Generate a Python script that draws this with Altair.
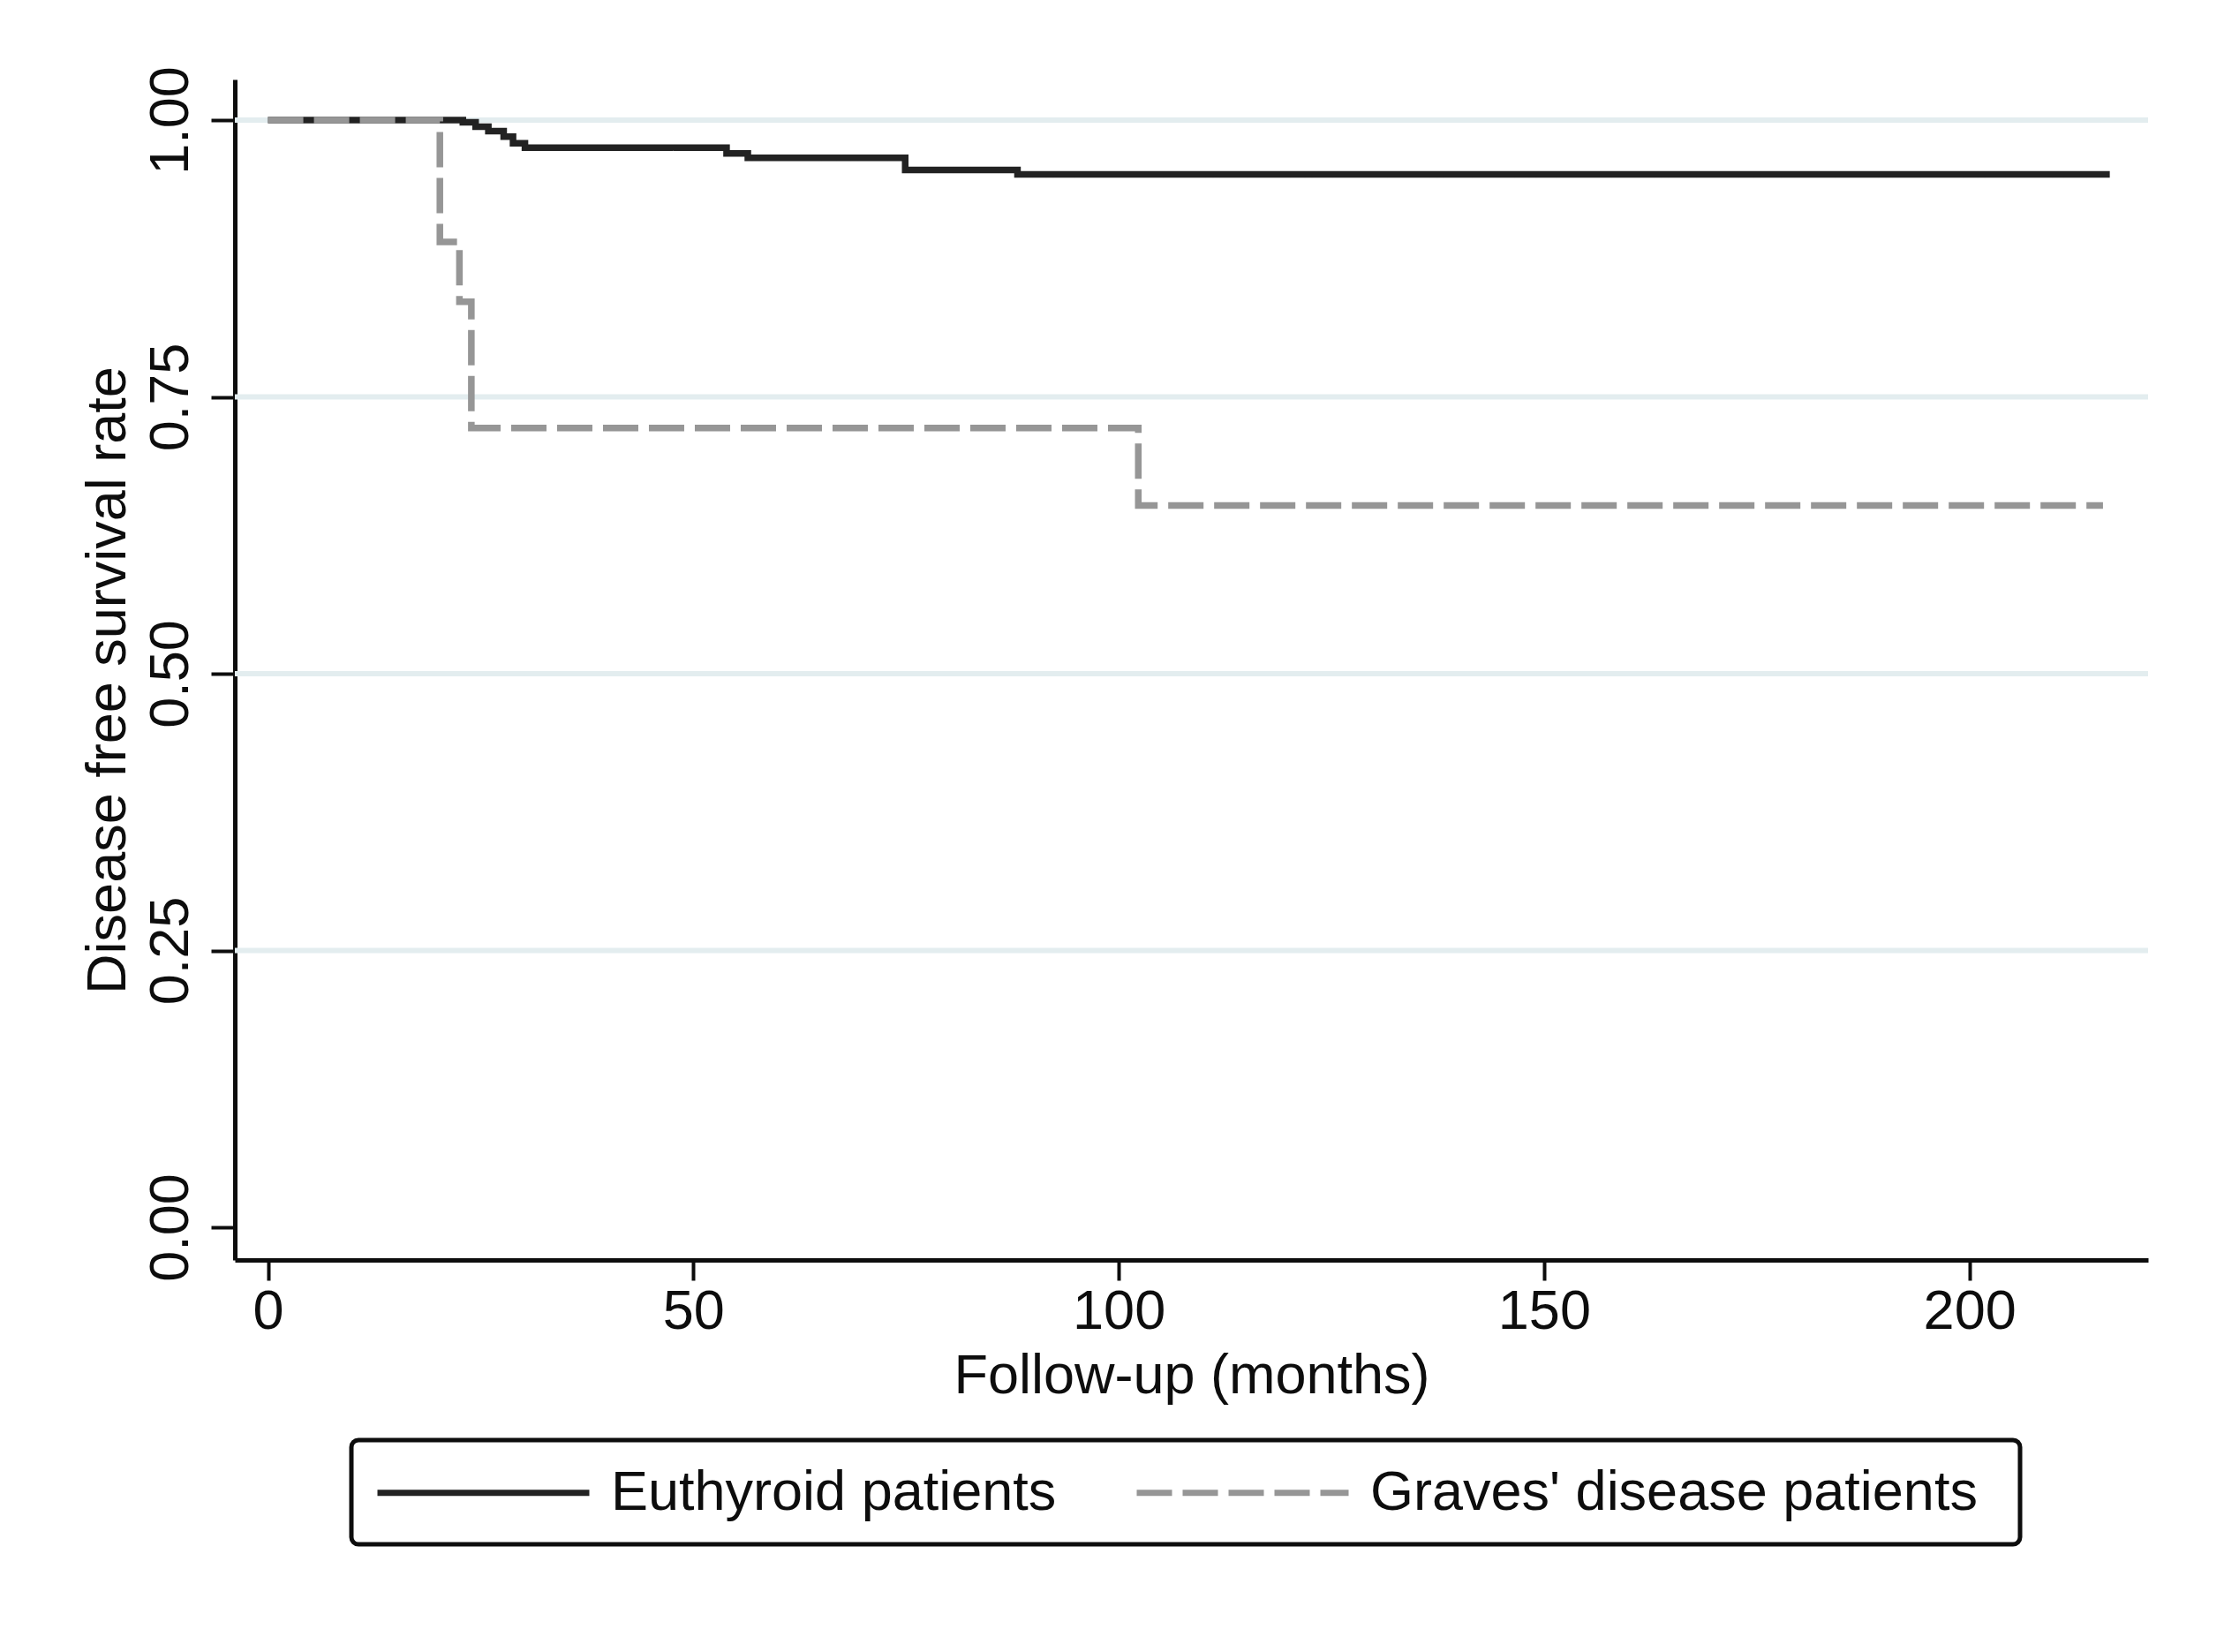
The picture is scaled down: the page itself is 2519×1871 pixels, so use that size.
import altair as alt
import pandas as pd

# ---- data (Kaplan-Meier step curves) ----
euthyroid_months = [0, 22.9, 24.4, 25.9, 27.7, 28.8, 30.2, 53.9, 56.4, 74.9, 88.1, 216.5]
euthyroid_surv = [1.0, 0.998, 0.994, 0.990, 0.985, 0.979, 0.975, 0.970, 0.966, 0.955, 0.951, 0.951]

graves_months = [0, 20.2, 22.5, 23.9, 102.3, 215.7]
graves_surv = [1.0, 0.890, 0.836, 0.722, 0.652, 0.652]

series_names = ["Euthyroid patients", "Graves' disease patients"]
x_ticks = [0, 50, 100, 150, 200]
y_ticks = [0, 0.25, 0.5, 0.75, 1.0]
grid_values = [0.25, 0.5, 0.75, 1.0]

rows = []
for m, s in zip(euthyroid_months, euthyroid_surv):
    rows.append({"months": m, "surv": s, "group": series_names[0]})
for m, s in zip(graves_months, graves_surv):
    rows.append({"months": m, "surv": s, "group": series_names[1]})
df = pd.DataFrame(rows)
grid_df = pd.DataFrame({"surv": grid_values})

FONT = "Liberation Sans, Arial, Helvetica, sans-serif"
FS = 63
INK = "#0d0d0d"

x_scale = alt.Scale(domain=[-3.9, 221], nice=False, zero=False)
y_scale = alt.Scale(domain=[-0.0295, 1.0367], nice=False, zero=False)

x_axis = alt.Axis(
    values=x_ticks, format="d", grid=False,
    tickSize=23, tickWidth=4, tickColor=INK,
    domainColor=INK, domainWidth=5,
    labelFont=FONT, labelFontSize=FS, labelColor=INK, labelPadding=4,
    title="Follow-up (months)", titleFont=FONT, titleFontSize=FS,
    titleFontWeight="normal", titleColor=INK,
    titleBaseline="alphabetic", titleY=150,
)
y_axis = alt.Axis(
    values=y_ticks, format=".2f", grid=False,
    tickSize=27, tickWidth=4, tickColor=INK,
    domainColor=INK, domainWidth=5,
    labelFont=FONT, labelFontSize=FS, labelColor=INK,
    labelAngle=270, labelAlign="center", labelBaseline="alphabetic", labelPadding=27,
    title="Disease free survival rate", titleFont=FONT, titleFontSize=FS,
    titleFontWeight="normal", titleColor=INK,
    titleAngle=270, titleAlign="center", titleBaseline="alphabetic",
    titleX=-125, titleY=680,
)

grid = alt.Chart(grid_df).mark_rule(color="#e3edef", strokeWidth=6).encode(
    y=alt.Y("surv:Q", scale=y_scale, axis=y_axis)
)

lines = alt.Chart(df).mark_line(interpolate="step-after", strokeWidth=7.5).encode(
    x=alt.X("months:Q", scale=x_scale, axis=x_axis),
    y=alt.Y("surv:Q", scale=y_scale, axis=y_axis),
    color=alt.Color(
        "group:N",
        scale=alt.Scale(domain=series_names, range=["#222222", "#969696"]),
        legend=alt.Legend(title=" ", titleOrient="right", titlePadding=22),
    ),
    strokeDash=alt.StrokeDash(
        "group:N",
        scale=alt.Scale(domain=series_names, range=[[1, 0], [40, 12]]),
        legend=alt.Legend(title=" ", titleOrient="right", titlePadding=22),
    ),
)

chart = (
    alt.layer(grid, lines)
    .properties(
        width=2167,
        height=1337,
        padding={"left": 258, "top": 82, "right": 60, "bottom": 400},
        autosize=alt.AutoSizeParams(type="none"),
        background="white",
    )
    .configure_view(strokeWidth=0)
    .configure_legend(
        orient="none",
        legendX=132,
        legendY=1541,
        direction="horizontal",
        strokeColor=INK,
        strokeWidth=5,
        cornerRadius=8,
        padding=26,
        fillColor="white",
        symbolType="M-1,0L7,0",
        symbolSize=3600,
        symbolStrokeWidth=7,
        labelFont=FONT,
        labelFontSize=FS,
        labelColor=INK,
        labelLimit=2000,
        labelOffset=201,
        columnPadding=76,
        titleFont=FONT,
        titleFontSize=FS,
    )
)

chart.save("out.html", embed_options={"renderer": "svg", "actions": False})
